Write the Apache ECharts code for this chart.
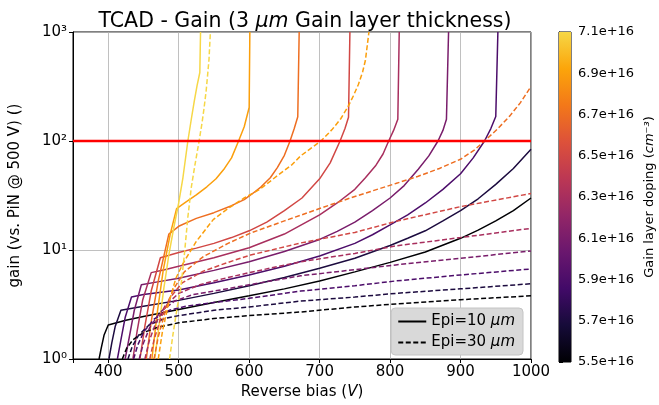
<!DOCTYPE html>
<html>
<head>
<meta charset="utf-8">
<script src="https://cdn.jsdelivr.net/npm/echarts@6/dist/echarts.min.js"></script>
<style>
  html, body { margin: 0; padding: 0; background: #fff; }
  #main { width: 659px; height: 405px; }
</style>
</head>
<body>
<div id="main"></div>
<script>
  // gain layer doping of every simulated device (cm^-3), also the colorbar ticks
  const dopings = [5.5e16, 5.7e16, 5.9e16, 6.1e16, 6.3e16, 6.5e16, 6.7e16, 6.9e16, 7.1e16];

  // Epi = 10 um, [reverse bias (V), gain]
  const epi10_55 = [[387,1],[390,1.25],[394,1.65],[400,2.05],[425,2.27],[450,2.45],[500,2.85],[550,3.3],[600,3.8],[650,4.4],[700,5.2],[750,6.3],[800,7.7],[850,9.6],[900,12.8],[925,15.2],[950,18.5],[975,23],[1000,30]];
  const epi10_57 = [[401,1],[405,1.4],[410,2.0],[418,2.8],[450,3.05],[500,3.45],[550,4.0],[600,4.7],[650,5.6],[700,6.8],[750,8.4],[800,11],[825,12.8],[850,15],[875,18.5],[900,23],[925,29.5],[950,40],[975,56],[1000,84]];
  const epi10_59 = [[413,1],[418,1.5],[424,2.4],[433,3.7],[450,3.9],[500,4.3],[550,5.0],[600,5.9],[650,7.1],[700,8.8],[750,11.5],[775,13.8],[800,17],[825,21],[850,27],[875,36],[900,50],[918,70],[934,100],[943,130],[950,168],[953,1000]];
  const epi10_61 = [[424,1],[430,1.6],[437,2.8],[447,4.8],[470,5.1],[500,5.5],[550,6.5],[600,7.8],[650,9.7],[700,12.5],[725,14.8],[750,18],[775,23],[800,30],[820,39],[840,55],[855,73],[868,100],[875,125],[880,158],[883,1000]];
  const epi10_63 = [[435,1],[441,1.8],[449,3.5],[461,6.2],[480,6.6],[500,7.1],[550,8.5],[600,10.5],[650,14],[700,21],[725,27],[750,36],[765,46],[780,60],[790,76],[798,100],[805,125],[811,158],[813,1000]];
  const epi10_65 = [[445,1],[452,2],[461,4.2],[474,8.5],[500,9.5],[525,10.4],[550,11.5],[575,13],[600,15],[625,18],[650,23],[675,30],[700,45],[715,63],[729,100],[736,130],[741,165],[743,1000]];
  const epi10_67 = [[454,1],[461,2.2],[471,5.2],[486,14],[500,16.5],[525,19.5],[550,22],[575,25.5],[593,29],[605,33],[617,38],[630,46],[640,57],[650,74],[658,100],[664,130],[669,167],[671,1000]];
  const epi10_69 = [[462,1],[469,2.5],[478,6.5],[488,14],[497,24],[510,27.5],[525,32],[540,38],[553,45],[565,56],[575,70],[585,100],[593,135],[600,203],[601,1000]];
  const epi10_71 = [[466,1],[472,2],[479,4.5],[486,9],[493,16],[500,27],[506,46],[513,100],[518,160],[522,230],[526,320],[530,425],[531,1000]];

  // Epi = 30 um, [reverse bias (V), gain]
  const epi30_55 = [[420,1],[426,1.25],[435,1.5],[450,1.75],[470,1.95],[500,2.15],[550,2.35],[600,2.5],[673,2.7],[750,3.0],[808,3.2],[900,3.5],[1000,3.8]];
  const epi30_57 = [[428,1],[434,1.3],[443,1.65],[458,2.05],[480,2.35],[500,2.5],[550,2.8],[600,3.0],[673,3.4],[750,3.7],[808,4.0],[900,4.4],[1000,4.9]];
  const epi30_59 = [[436,1],[442,1.35],[451,1.8],[466,2.35],[487,2.8],[510,3.05],[550,3.3],[600,3.6],[673,4.2],[750,4.7],[808,5.2],[900,5.9],[1000,6.7]];
  const epi30_61 = [[444,1],[450,1.4],[459,1.95],[474,2.7],[494,3.4],[520,3.9],[560,4.3],[600,4.8],[673,5.8],[750,6.6],[808,7.3],[900,8.4],[1000,9.8]];
  const epi30_63 = [[452,1],[458,1.45],[467,2.1],[481,3.1],[500,4.0],[530,4.8],[560,5.4],[600,6.2],[673,7.8],[750,9.3],[808,10.9],[900,13],[1000,15.8]];
  const epi30_65 = [[459,1],[465,1.5],[474,2.3],[487,3.6],[505,5.0],[535,6.4],[570,7.7],[602,9],[673,11.6],[750,14.5],[808,18.3],[900,25],[1000,33]];
  const epi30_67 = [[465,1],[471,1.6],[480,2.6],[492,4.3],[508,6.3],[535,8.7],[570,11.5],[602,14.3],[650,18.5],[700,24],[750,31],[808,40.7],[840,47.5],[870,56],[900,68],[920,83],[934,100],[952,128],[970,170],[985,225],[1000,316]];
  const epi30_69 = [[471,1],[477,1.8],[486,3.3],[496,5.5],[506,7.5],[525,12],[549,19],[570,24],[593,30],[615,36],[640,48],[660,60],[673,73],[688,86],[702,100],[718,128],[730,160],[740,205],[748,260],[755,330],[761,430],[765,550],[770,1000]];
  const epi30_71 = [[487,1],[492,1.7],[498,3],[503,4.5],[508,9],[513,20],[518,38],[523,60],[529,100],[533,145],[536,200],[539,290],[541,400],[543,560],[545,1000]];

  const epi10 = [epi10_55, epi10_57, epi10_59, epi10_61, epi10_63, epi10_65, epi10_67, epi10_69, epi10_71];
  const epi30 = [epi30_55, epi30_57, epi30_59, epi30_61, epi30_63, epi30_65, epi30_67, epi30_69, epi30_71];

  // red reference line: gain 100 across the whole bias range
  const refBias = [350, 1000];
  const refGain = 100;

  const FONT = 'DejaVu Sans';
  // inferno, cut at 0.9 like the colorbar
  const inferno = ['#000004','#160b39','#420a68','#6a176e','#932667','#bc3754','#dd513a','#f37819','#fca50a','#f6d746'];

  function hex(c){ return [parseInt(c.slice(1,3),16), parseInt(c.slice(3,5),16), parseInt(c.slice(5,7),16)]; }
  function cmap(t){
    let p = t*(inferno.length-1), i = Math.min(Math.floor(p), inferno.length-2), f = p-i;
    let a = hex(inferno[i]), b = hex(inferno[i+1]);
    return 'rgb(' + a.map((v,k)=>Math.round(v+(b[k]-v)*f)).join(',') + ')';
  }
  const colors = dopings.map((d,i)=>cmap(i/(dopings.length-1)));
  const sup = ['⁰','¹','²','³'];

  let series = [];
  epi10.forEach((pts,i)=>{
    series.push({type:'line', xAxisIndex:0, yAxisIndex:0, data:pts, symbol:'none', silent:true,
      lineStyle:{color:colors[i], width:1.5}, z:2});
  });
  epi30.forEach((pts,i)=>{
    series.push({type:'line', xAxisIndex:0, yAxisIndex:0, data:pts, symbol:'none', silent:true,
      lineStyle:{color:colors[i], width:1.5, type:[5,2.5]}, z:2});
  });
  series.push({type:'line', xAxisIndex:0, yAxisIndex:0, data:refBias.map(v=>[v,refGain]), symbol:'none', silent:true,
    lineStyle:{color:'#ff0000', width:2.5}, z:3});
  // legend entries
  series.push({name:'Epi=10 μm', type:'line', data:[], symbol:'none', color:'#000', itemStyle:{opacity:0},
    lineStyle:{color:'#000', width:1.5}});
  series.push({name:'Epi=30 μm', type:'line', data:[], symbol:'none', color:'#000', itemStyle:{opacity:0},
    lineStyle:{color:'#000', width:1.5, type:[5,2.5]}});
  // colorbar
  series.push({type:'custom', xAxisIndex:1, yAxisIndex:1, silent:true, data:[[0, dopings.length-1]],
    renderItem:function(params, api){
      let p0 = api.coord([0, api.value(0)]), p1 = api.coord([1, api.value(1)]);
      return {type:'rect', shape:{x:p0[0], y:p1[1], width:p1[0]-p0[0], height:p0[1]-p1[1]},
        style:{fill:new echarts.graphic.LinearGradient(0,1,0,0, inferno.map((c,k)=>({offset:k/(inferno.length-1), color:c})))}};
    }});

  let chart = echarts.init(document.getElementById('main'));
  chart.setOption({
    animation:false,
    textStyle:{fontFamily:FONT, color:'#000'},
    title:{
      text:'TCAD - Gain (3 {i|μm} Gain layer thickness)',
      left:300, textAlign:'center', top:6,
      textStyle:{fontFamily:FONT, fontSize:20.5, fontWeight:'normal', color:'#000',
        rich:{i:{fontFamily:FONT, fontSize:20.5, fontStyle:'italic', color:'#000'}}}
    },
    legend:{
      orient:'vertical', right:136, bottom:50, selectedMode:false,
      itemWidth:28, itemHeight:12, itemGap:6, padding:[6,8,5,6],
      backgroundColor:'#d9d9d9', borderColor:'#c4c4c4', borderWidth:1, borderRadius:4,
      itemStyle:{opacity:0},
      formatter:n=>n.replace('μm','{i|μm}'),
      textStyle:{fontFamily:FONT, fontSize:15, color:'#000',
        rich:{i:{fontFamily:FONT, fontSize:15, fontStyle:'italic', color:'#000'}}}
    },
    grid:[
      {left:72, right:128, top:32, bottom:43, show:true, borderColor:'#000', borderWidth:1},
      {left:559, width:12, top:32, bottom:43, show:true, borderColor:'#000', borderWidth:1}
    ],
    xAxis:[
      {type:'value', gridIndex:0, min:350, max:1000,
        name:'Reverse bias ({i|V})', nameLocation:'middle', nameGap:26,
        nameTextStyle:{fontFamily:FONT, fontSize:15, color:'#000',
          rich:{i:{fontFamily:FONT, fontSize:15, fontStyle:'italic', color:'#000'}}},
        axisLine:{lineStyle:{color:'#000', width:1}},
        axisTick:{length:4, lineStyle:{color:'#000'}},
        axisLabel:{fontSize:15, color:'#000', margin:6, formatter:v=>(v%100===0?String(v):'')},
        splitLine:{show:true, lineStyle:{color:'#b0b0b0', width:0.8}}},
      {type:'value', gridIndex:1, min:0, max:1, show:false}
    ],
    yAxis:[
      {type:'log', gridIndex:0, logBase:10, min:1, max:1000,
        name:'gain (vs. PiN @ 500 V) ()', nameLocation:'middle', nameGap:50,
        nameTextStyle:{fontFamily:FONT, fontSize:15, color:'#000'},
        axisLine:{lineStyle:{color:'#000', width:1}},
        axisTick:{length:4, lineStyle:{color:'#000'}},
        axisLabel:{fontSize:15, color:'#000', margin:6, formatter:v=>'10'+sup[Math.round(Math.log10(v))]},
        splitLine:{show:true, lineStyle:{color:'#b0b0b0', width:0.8}}},
      {type:'value', gridIndex:1, min:0, max:dopings.length-1, interval:1, position:'right',
        name:'Gain layer doping ({i|cm⁻³})', nameLocation:'middle', nameGap:72, nameRotate:90,
        nameTextStyle:{fontFamily:FONT, fontSize:13, color:'#000',
          rich:{i:{fontFamily:FONT, fontSize:13, fontStyle:'italic', color:'#000'}}},
        axisLine:{show:true, lineStyle:{color:'#000', width:1}},
        axisTick:{show:true, length:4, lineStyle:{color:'#000'}},
        axisLabel:{fontSize:13, color:'#000', margin:7, formatter:v=>dopings[v].toExponential(1)},
        splitLine:{show:false}}
    ],
    series:series
  });
</script>
</body>
</html>
